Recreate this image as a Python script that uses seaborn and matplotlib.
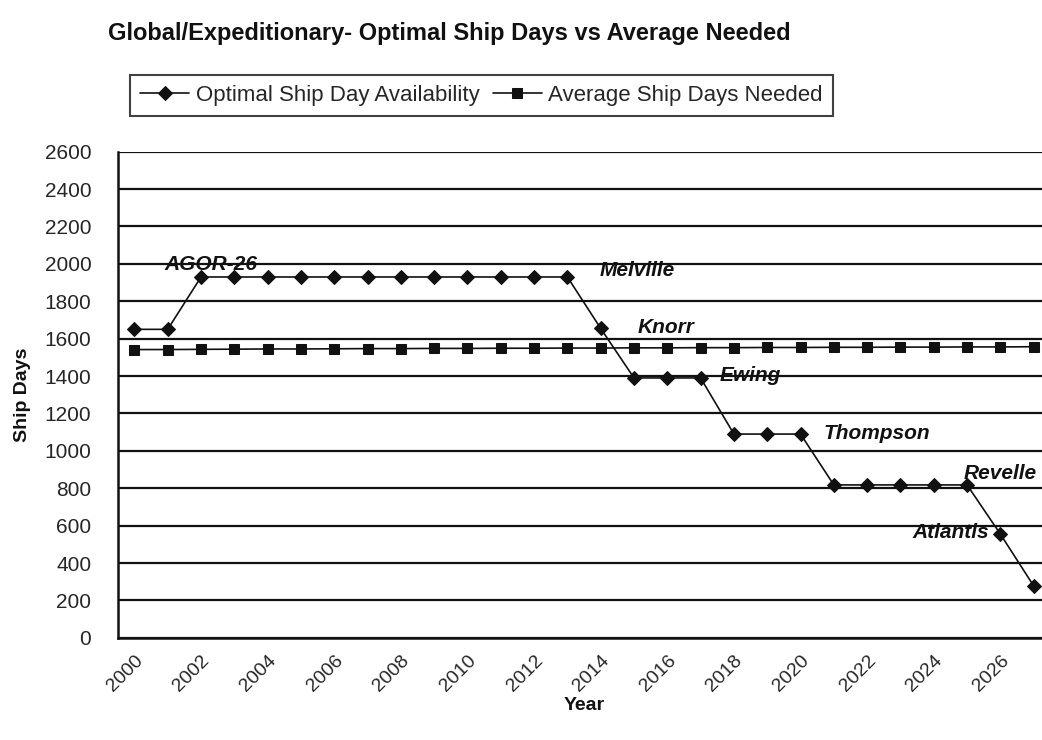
import matplotlib
matplotlib.use("Agg")
import matplotlib.pyplot as plt
import seaborn as sns
import pandas as pd
import numpy as np

# Data
years = list(range(2000, 2028))
optimal_days = [1650, 1650, 1930, 1930, 1930, 1930, 1930, 1930, 1930, 1930,
                1930, 1930, 1930, 1930, 1655, 1390, 1390, 1390, 1090, 1090,
                1090, 818, 818, 818, 818, 818, 555, 278]
needed_days = [1542, 1542, 1543, 1544, 1545, 1545, 1546, 1547, 1547, 1548,
               1548, 1549, 1549, 1550, 1550, 1551, 1551, 1552, 1552, 1553,
               1553, 1554, 1554, 1555, 1555, 1556, 1556, 1557]
ship_labels = {2002: "AGOR-26", 2013: "Melville", 2014: "Knorr", 2017: "Ewing",
               2020: "Thompson", 2025: "Revelle", 2026: "Atlantis"}
series_names = ["Optimal Ship Day Availability", "Average Ship Days Needed"]
y_ticks = list(range(0, 2601, 200))

sns.set_theme(style="white")
plt.rcParams["font.family"] = ["Liberation Sans", "DejaVu Sans"]
ink = "#111111"

df = pd.DataFrame({
    "idx": np.arange(len(years)),
    "year": years,
    series_names[0]: optimal_days,
    series_names[1]: needed_days,
})

fig = plt.figure(figsize=(10.42, 7.40), dpi=100)
ax = fig.add_axes([0.113, 0.138, 0.895, 0.657])

# horizontal gridlines
for v in y_ticks:
    ax.axhline(v, color=ink, lw=1.6, zorder=1)

sns.lineplot(data=df, x="idx", y=series_names[0], ax=ax, color=ink,
             marker="D", markersize=7, lw=1.2, markeredgecolor=ink,
             label=series_names[0], legend=False, zorder=3)
sns.lineplot(data=df, x="idx", y=series_names[1], ax=ax, color=ink,
             marker="s", markersize=7.5, lw=1.2, markeredgecolor=ink,
             label=series_names[1], legend=False, zorder=3)

ax.set_xlim(-0.5, len(years) - 0.5)
ax.set_ylim(0, 2600)
ax.set_yticks(y_ticks)
ax.set_yticklabels([str(v) for v in y_ticks], fontsize=15)

# category ticks sit between years, labels every other year
ax.set_xticks(np.arange(-0.5, len(years), 1.0))
ax.set_xticklabels([])
ax.set_xticks(np.arange(0, len(years), 2), minor=True)
ax.set_xticklabels([str(y) for y in years[::2]], minor=True, rotation=45,
                   ha="right", rotation_mode="anchor", fontsize=14)
ax.tick_params(axis="x", which="minor", length=0, pad=10)
ax.tick_params(axis="x", which="major", direction="out", length=6, width=1.5,
               color=ink)
ax.tick_params(axis="y", direction="inout", length=10, width=1.5,
               color=ink, pad=14)

for side in ["top", "right"]:
    ax.spines[side].set_visible(False)
for side in ["left", "bottom"]:
    ax.spines[side].set_color(ink)
    ax.spines[side].set_linewidth(1.8)

ax.set_xlabel("Year", fontsize=14, fontweight="bold", labelpad=2, color=ink)
ax.set_ylabel("Ship Days", fontsize=14, fontweight="bold", labelpad=10, color=ink)

# ship retirement labels
offsets = {2002: (10, 12, "center"), 2013: (32, 6, "left"), 2014: (37, 1, "left"),
           2017: (19, 2, "left"), 2020: (23, 1, "left"), 2025: (-3, 11, "left"),
           2026: (-11, 2, "right")}
for yr, name in ship_labels.items():
    i = years.index(yr)
    dx, dy, ha = offsets[yr]
    ax.annotate(name, xy=(i, optimal_days[i]), xytext=(dx, dy),
                textcoords="offset pixels", ha=ha, va="center",
                fontsize=15, fontweight="bold", fontstyle="italic",
                color=ink, zorder=4)

fig.text(0.104, 0.955, "Global/Expeditionary- Optimal Ship Days vs Average Needed",
         fontsize=17, fontweight="bold", ha="left", va="center", color=ink)

handles = [ax.lines[-2], ax.lines[-1]]
leg = fig.legend(handles, series_names, loc="upper left",
                 bbox_to_anchor=(0.125, 0.899), ncol=2, frameon=True,
                 fancybox=False, prop={"size": 16}, borderaxespad=0,
                 handlelength=2.2, handletextpad=0.3, columnspacing=0.6,
                 borderpad=0.45, numpoints=1)
leg.get_frame().set_edgecolor(ink)
leg.get_frame().set_linewidth(1.5)

fig.savefig("out.png", dpi=100)
